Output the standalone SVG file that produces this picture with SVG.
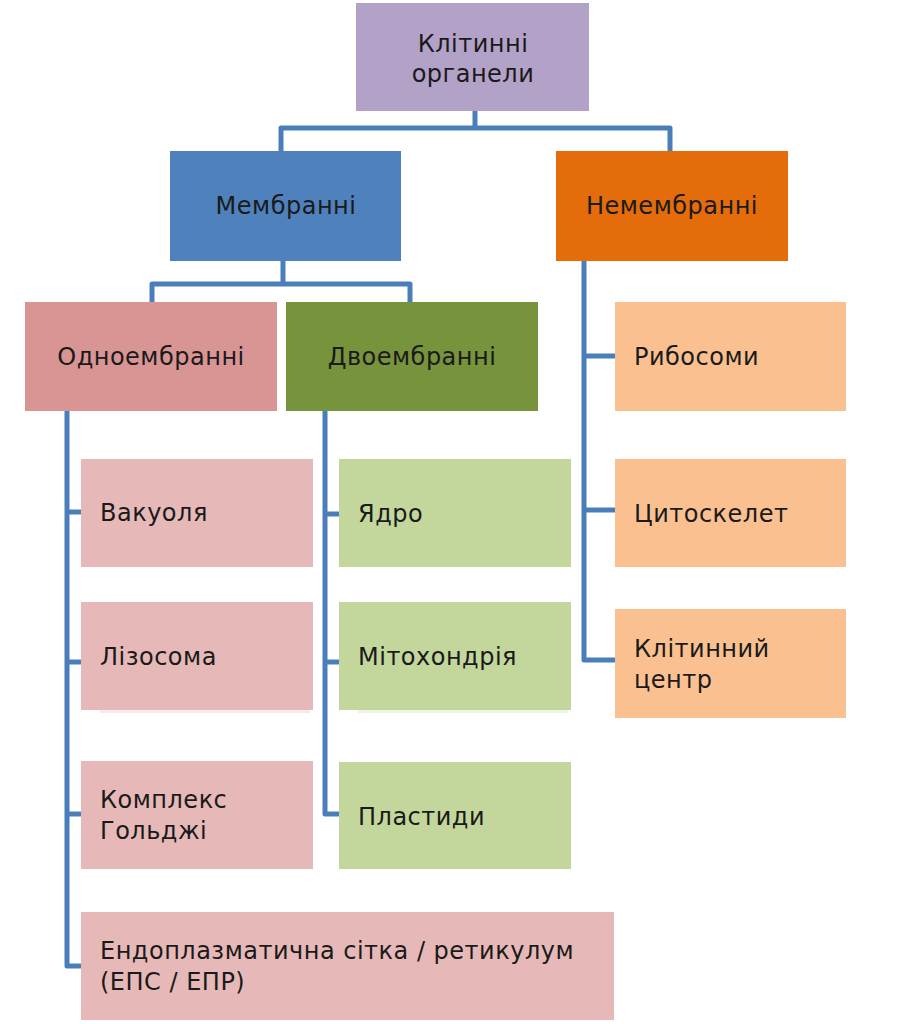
<svg xmlns="http://www.w3.org/2000/svg" width="899" height="1024" viewBox="0 0 899 1024">
<style>
text{font-family:"DejaVu Sans","Noto Sans",sans-serif;font-size:24px;letter-spacing:0.5px;fill:#1a1a1a}
.c{text-anchor:middle}
.conn{fill:none;stroke:#4A7EBB;stroke-width:5;stroke-linejoin:round;stroke-linecap:butt}
.pk{fill:#E6B9B8}.gr{fill:#C3D69B}.pe{fill:#FAC090}
</style>
<rect width="899" height="1024" fill="#fff"/>
<g id="connectors">
<path class="conn" d="M475,111V128H281V151M475,128H670V151"/>
<path class="conn" d="M283,261V284H152V302M283,284H410V302"/>
<path class="conn" d="M67,411V966H81M67,512H81M67,662H81M67,814H81"/>
<path class="conn" d="M325,411V814H339M325,514H339M325,662H339"/>
<path class="conn" d="M584,261V660H615M584,356H615M584,510H615"/>
</g>
<g id="root"><rect x="356" y="3" width="233" height="108" fill="#B3A2C7"/><text class="c" x="473" y="52">Клітинні</text><text class="c" x="473" y="82">органели</text></g>
<g id="membr"><rect x="170" y="151" width="231" height="110" fill="#4F81BD"/><text class="c" x="286" y="214">Мембранні</text></g>
<g id="nemembr"><rect x="556" y="151" width="232" height="110" fill="#E46C0A"/><text class="c" x="672" y="214">Немембранні</text></g>
<g id="odno"><rect x="25" y="302" width="252" height="109" fill="#D99594"/><text class="c" x="151" y="365">Одноембранні</text></g>
<g id="dvo"><rect x="286" y="302" width="252" height="109" fill="#77933C"/><text class="c" x="412" y="365">Двоембранні</text></g>
<g id="vakuolia"><rect class="pk" x="81" y="459" width="232" height="108"/><text x="100" y="521">Вакуоля</text></g>
<g id="lizosoma"><rect x="100" y="708" width="210" height="5" fill="#F7EAEA"/><rect class="pk" x="81" y="602" width="232" height="108"/><text x="100" y="665">Лізосома</text></g>
<g id="holdzhi"><rect class="pk" x="81" y="761" width="232" height="108"/><text x="100" y="808">Комплекс</text><text x="100" y="839">Гольджі</text></g>
<g id="eps"><rect class="pk" x="81" y="912" width="533" height="108"/><text x="100" y="959">Ендоплазматична сітка / ретикулум</text><text x="100" y="990">(ЕПС / ЕПР)</text></g>
<g id="yadro"><rect class="gr" x="339" y="459" width="232" height="108"/><text x="358" y="522">Ядро</text></g>
<g id="mito"><rect x="358" y="708" width="210" height="5" fill="#EEF3E4"/><rect class="gr" x="339" y="602" width="232" height="108"/><text x="358" y="665">Мітохондрія</text></g>
<g id="plastydy"><rect class="gr" x="339" y="762" width="232" height="107"/><text x="358" y="825">Пластиди</text></g>
<g id="rybosomy"><rect class="pe" x="615" y="302" width="231" height="109"/><text x="634" y="365">Рибосоми</text></g>
<g id="tsyto"><rect class="pe" x="615" y="459" width="231" height="108"/><text x="634" y="522">Цитоскелет</text></g>
<g id="tsentr"><rect class="pe" x="615" y="609" width="231" height="109"/><text x="634" y="657">Клітинний</text><text x="634" y="688">центр</text></g>
</svg>
